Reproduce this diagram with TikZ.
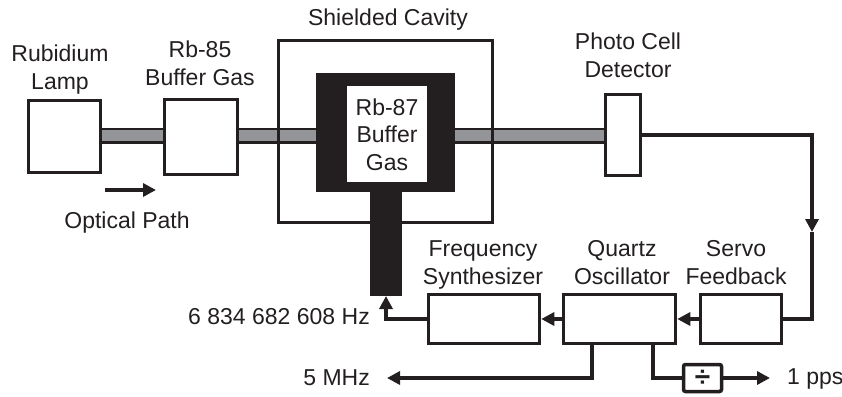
\documentclass[tikz,border=0pt]{standalone}
\usepackage{fontspec}
\setmainfont{Liberation Sans}
\usetikzlibrary{arrows.meta,backgrounds}
\definecolor{ink}{HTML}{231F20}
\definecolor{beamgray}{HTML}{939598}
\begin{document}
\begin{tikzpicture}[x=1pt,y=-1pt,
  box/.style={draw=ink, line width=3.5pt, fill=white, inner sep=0pt},
  frame/.style={draw=ink, line width=3.5pt, inner sep=0pt},
  solidblk/.style={fill=ink, inner sep=0pt, outer sep=0pt},
  lbl/.style={font=\fontsize{23}{27.5}\selectfont, inner sep=0pt, align=center, text=ink},
  conn/.style={draw=ink, line width=3.5pt},
  arr/.style={conn, -{Triangle[length=13pt,width=13pt]}},
  beam/.style={draw=ink, line width=2.5pt, double=beamgray, double distance=11pt}
]
\useasboundingbox (0,0) rectangle (842,396);

% boxes
\node[box, minimum width=72pt, minimum height=72pt] (lamp) at (64.5,136.5) {};
\node[box, minimum width=73pt, minimum height=75pt] (rb85) at (201,137) {};
\node[frame, minimum width=214pt, minimum height=182pt] (cavity) at (385.5,131.5) {};
\node[solidblk, minimum width=139pt, minimum height=119pt] (cell) at (385.5,132.5) {};
\node[solidblk, minimum width=32pt, minimum height=104pt] (stem) at (386,244) {};
\node[fill=white, inner sep=0pt, outer sep=0pt, minimum width=80pt, minimum height=96pt] (rb87) at (387,134) {};
\node[box, minimum width=35pt, minimum height=81pt] (photo) at (623,135) {};
\node[box, minimum width=81pt, minimum height=49pt] (servo) at (741,319) {};
\node[box, minimum width=112pt, minimum height=49pt] (quartz) at (619.5,319) {};
\node[box, minimum width=111pt, minimum height=49pt] (synth) at (484,319) {};
\node[box, rounded corners=2pt, minimum width=38pt, minimum height=27pt,
      font=\fontsize{28}{28}\selectfont\bfseries, text=ink] (div) at (702.5,378) {÷};

% labels (base = baseline of the last line)
\node[lbl, anchor=base] (lampL) at (60,89) {Rubidium\\Lamp};
\node[lbl, anchor=base] (rb85L) at (200,85) {Rb-85\\Buffer Gas};
\node[lbl, anchor=base] (cavL) at (388,26) {Shielded Cavity};
\node[lbl, anchor=base] (rb87L) at (387,170) {Rb-87\\Buffer\\Gas};
\node[lbl, anchor=base] (photoL) at (628,77) {Photo Cell\\Detector};
\node[lbl, anchor=base] (optL) at (127,228) {Optical Path};
\node[lbl, anchor=base] (synthL) at (483,284) {Frequency\\Synthesizer};
\node[lbl, anchor=base] (quartzL) at (622,284) {Quartz\\Oscillator};
\node[lbl, anchor=base] (servoL) at (736,284) {Servo\\Feedback};
\node[lbl, anchor=base east] (hzL) at (370,324) {6 834 682 608 Hz};
\node[lbl, anchor=base east] (mhzL) at (370,385) {5 MHz};
\node[lbl, anchor=base west] (ppsL) at (787,384) {1 pps};

% optical beam
\coordinate (by) at (0,135.5);
\begin{pgfonlayer}{background}
\draw[beam] (lamp.east |- by) -- (rb85.west |- by);
\draw[beam] (rb85.east |- by) -- (cell.west |- by);
\draw[beam] (cell.east |- by) -- (photo.west |- by);
\end{pgfonlayer}

% optical path arrow
\coordinate (opa) at (105,190);
\coordinate (opb) at (156,190);
\draw[arr] (opa) -- (opb);

% feedback loop
\coordinate (fbmid) at (812,232);
\draw[arr] (photo.east) -| (fbmid);
\draw[conn] (fbmid) |- (servo.east);
\draw[arr] (servo.west) -- (quartz.east);
\draw[arr] (quartz.west) -- (synth.east);
\draw[arr] (synth.west) -| (stem.south);

% outputs
\coordinate (mhztip) at (387,378);
\coordinate (ppstip) at (770,378);
\draw[arr] ([xshift=-27.5pt]quartz.south) |- (mhztip);
\draw[conn] ([xshift=33.5pt]quartz.south) |- (div.west);
\draw[arr] (div.east) -- (ppstip);
\end{tikzpicture}
\end{document}
